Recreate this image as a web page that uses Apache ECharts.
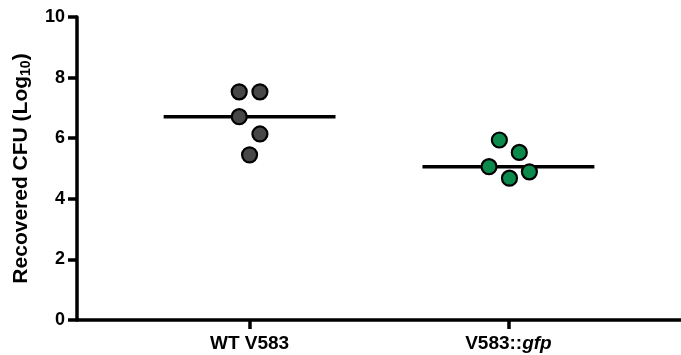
<!DOCTYPE html>
<html>
<head>
<meta charset="utf-8">
<script src="https://cdn.jsdelivr.net/npm/echarts@6/dist/echarts.min.js"></script>
<style>
  html, body { margin: 0; padding: 0; background: #fff; }
  #chart { width: 681px; height: 355px; }
</style>
</head>
<body>
<div id="chart"></div>
<script>
var groups = ['WT V583', 'V583::gfp'];
var groupColors = ['#474747', '#0c8a4c'];
var wtValues = [7.53, 7.53, 6.71, 6.14, 5.45];
var wtJitter = [-0.04, 0.04, -0.04, 0.04, 0];
var gfpValues = [5.94, 5.53, 5.06, 4.68, 4.89];
var gfpJitter = [-0.035, 0.042, -0.075, 0.004, 0.081];
var yTicks = [0, 2, 4, 6, 8, 10];

(function () {
    var myChart = echarts.init(document.getElementById('chart'));
    var font = 'Liberation Sans, Arial';

    function median(arr) {
        var s = arr.slice().sort(function (a, b) { return a - b; });
        var m = Math.floor(s.length / 2);
        return s.length % 2 ? s[m] : (s[m - 1] + s[m]) / 2;
    }

    var sets = [
        { values: wtValues, jitter: wtJitter },
        { values: gfpValues, jitter: gfpJitter }
    ];

    var series = [];
    sets.forEach(function (set, i) {
        var pos = i + 1;
        var med = median(set.values);
        series.push({
            type: 'line',
            data: [[pos - 0.332, med], [pos + 0.332, med]],
            symbol: 'none',
            lineStyle: { color: '#000', width: 3.5 },
            z: 2,
            silent: true
        });
        series.push({
            name: groups[i],
            type: 'scatter',
            data: set.values.map(function (v, k) { return [pos + set.jitter[k], v]; }),
            symbolSize: 15,
            itemStyle: { color: groupColors[i], borderColor: '#000', borderWidth: 2.2, opacity: 1 },
            z: 3
        });
    });

    var option = {
        animation: false,
        grid: { left: 77, right: 0, top: 17, bottom: 35 },
        xAxis: {
            type: 'value',
            min: 1 / 3,
            max: 8 / 3,
            splitLine: { show: false },
            axisLine: { show: true, onZero: false, lineStyle: { color: '#000', width: 3.5 } },
            axisTick: { show: true, customValues: [1, 2], length: 9, lineStyle: { color: '#000', width: 3.5 } },
            axisLabel: {
                customValues: [1, 2],
                margin: 14,
                formatter: function (v) {
                    return v === 1 ? '{b|WT V583}' : '{b|V583::}{i|gfp}';
                },
                rich: {
                    b: { fontFamily: font, fontWeight: 'bold', fontSize: 19, color: '#000' },
                    i: { fontFamily: font, fontWeight: 'bold', fontStyle: 'italic', fontSize: 19, color: '#000' }
                }
            }
        },
        yAxis: {
            type: 'value',
            min: yTicks[0],
            max: yTicks[yTicks.length - 1],
            interval: 2,
            splitLine: { show: false },
            axisLine: { show: true, lineStyle: { color: '#000', width: 3.5 } },
            axisTick: { show: true, length: 9, lineStyle: { color: '#000', width: 3.5 } },
            axisLabel: {
                margin: 12,
                fontFamily: font,
                fontWeight: 'bold',
                fontSize: 18,
                color: '#000'
            },
            name: '{t|Recovered CFU (Log}{s|10}{t|)}',
            nameLocation: 'middle',
            nameGap: 44,
            nameTextStyle: {
                rich: {
                    t: { fontFamily: font, fontWeight: 'bold', fontSize: 21, color: '#000' },
                    s: { fontFamily: font, fontWeight: 'bold', fontSize: 14, color: '#000', verticalAlign: 'bottom', padding: [10, 0, 0, 0] }
                }
            }
        },
        series: series
    };

    myChart.setOption(option);
    window.addEventListener('resize', function () {
        myChart.resize();
    });
})();
</script>
</body>
</html>
